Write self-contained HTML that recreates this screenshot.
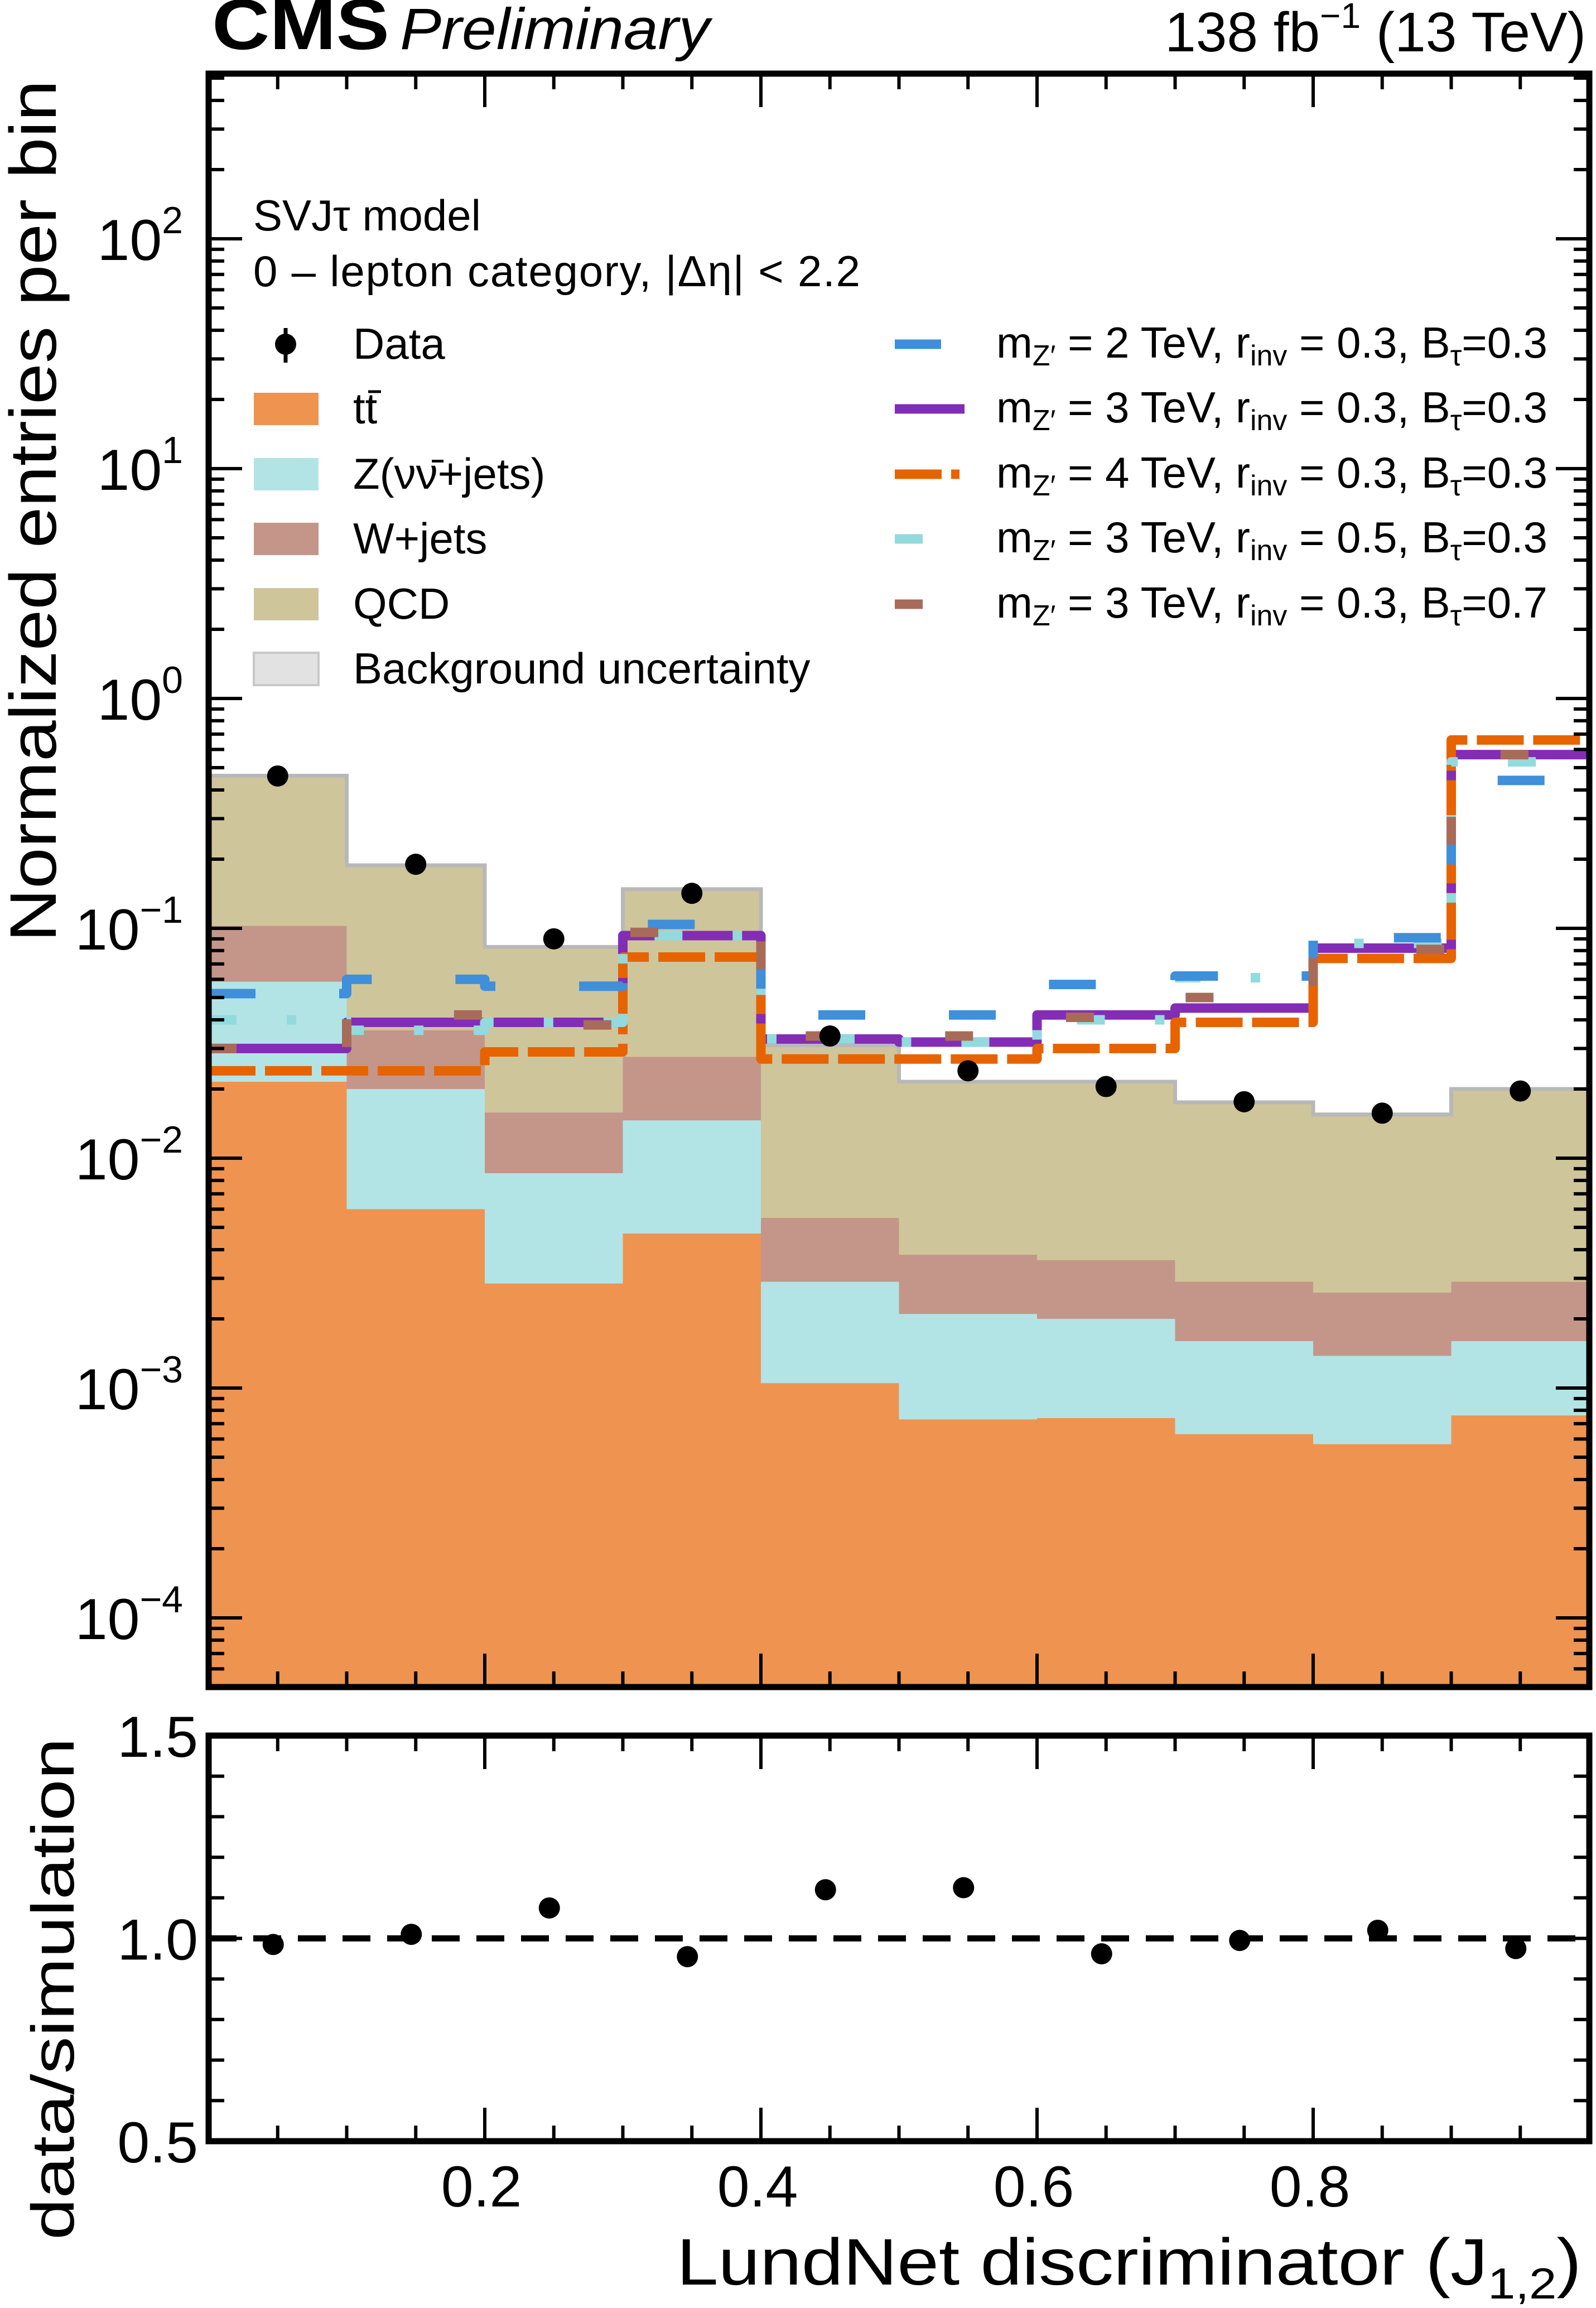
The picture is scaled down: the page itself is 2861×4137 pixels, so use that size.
<!DOCTYPE html>
<html><head><meta charset="utf-8"><style>
html,body{margin:0;padding:0;background:#fff}
svg{display:block}
text{font-family:"Liberation Sans",Arial,sans-serif;fill:#000}
</style></head><body>
<svg id="chart" xmlns="http://www.w3.org/2000/svg" width="2861" height="4137" viewBox="0 0 2861 4137">
<g id="layer-fill"></g>
<g id="layer-lines"></g>
<g id="layer-pts"></g>
<g id="layer-axes"></g>
<g id="layer-text">
<text x="380" y="88" font-size="128" font-weight="bold" textLength="318" lengthAdjust="spacingAndGlyphs">CMS</text>
<text x="717" y="88" font-size="105" font-style="italic" textLength="555" lengthAdjust="spacingAndGlyphs">Preliminary</text>
<text x="2843" y="92" font-size="100" text-anchor="end">138 fb<tspan font-size="64" dy="-42">−1</tspan><tspan dy="42"> (13 TeV)</tspan></text>
<text transform="translate(100,916) rotate(-90)" font-size="118" text-anchor="middle" textLength="1545" lengthAdjust="spacingAndGlyphs">Normalized entries per bin</text>
<text transform="translate(132,3565) rotate(-90)" font-size="108" text-anchor="middle" textLength="900" lengthAdjust="spacingAndGlyphs">data/simulation</text>
<text x="1213" y="4095" font-size="118" textLength="1622" lengthAdjust="spacingAndGlyphs">LundNet discriminator (J<tspan font-size="78" dy="25">1,2</tspan><tspan dy="-25">)</tspan></text>
<text x="454" y="413" font-size="78">SVJτ model</text>
<text x="454" y="513" font-size="78" textLength="1088" lengthAdjust="spacing">0 – lepton category,  |Δη| &lt; 2.2</text>
</g>
<g id="legend"></g>
</svg>
<script>
const binEdges=[0,0.1,0.2,0.3,0.4,0.5,0.6,0.7,0.8,0.9,1.0];
const ttbar=[0.0215,0.006,0.00285,0.0047,0.00105,0.00073,0.00074,0.00063,0.00057,0.00076];
const zjets=[0.0586,0.02,0.0086,0.0146,0.0029,0.0021,0.002,0.0016,0.00138,0.0016];
const wjets=[0.1025,0.036,0.0158,0.0276,0.0055,0.0038,0.0036,0.0029,0.0026,0.0029];
const qcdTotal=[0.461,0.188,0.083,0.148,0.031,0.0215,0.0215,0.0175,0.0155,0.020];
const dataVals=[0.46,0.19,0.09,0.142,0.034,0.024,0.0205,0.0176,0.0157,0.0196];
const ratioVals=[0.985,1.01,1.075,0.955,1.12,1.125,0.962,0.995,1.02,0.975];
const sigBlue=[0.052,0.06,0.056,0.104,0.042,0.042,0.057,0.062,0.091,0.44];
const sigPurple=[0.030,0.039,0.039,0.093,0.033,0.032,0.042,0.045,0.082,0.57];
const sigOrange=[0.024,0.024,0.029,0.075,0.027,0.027,0.030,0.039,0.074,0.66];
const sigCyan=[0.040,0.036,0.039,0.093,0.033,0.032,0.040,0.061,0.086,0.53];
const sigBrown=[0.030,0.042,0.038,0.096,0.034,0.034,0.041,0.050,0.081,0.57];
const yTickExps=[-4,-3,-2,-1,0,1,2];
const xTickLabels=["0.2","0.4","0.6","0.8"];
const ratioTickLabels=["0.5","1.0","1.5"];

const NS="http://www.w3.org/2000/svg";
const L=374,R=2849,T=132,B=3024,RT=3111,RB=3838;
function X(v){return L+v*(R-L);}
function Y(v){return 1252-412*Math.log10(v);}
function RY(v){return RB-(v-0.5)*(RB-RT);}
function mk(tag,attrs,parent){const e=document.createElementNS(NS,tag);for(const k in attrs)e.setAttribute(k,attrs[k]);parent.appendChild(e);return e;}
const gF=document.getElementById('layer-fill'),gL=document.getElementById('layer-lines'),gP=document.getElementById('layer-pts'),gA=document.getElementById('layer-axes'),gLeg=document.getElementById('legend');

function stackPath(top){let d=`M${X(0)},${B}`;for(let i=0;i<top.length;i++){d+=` L${X(binEdges[i])},${Y(top[i])} L${X(binEdges[i+1])},${Y(top[i])}`;}d+=` L${X(1)},${B} Z`;return d;}
function stepPath(vals){let d='';for(let i=0;i<vals.length;i++){d+=(i?' L':'M')+`${X(binEdges[i])},${Y(vals[i])} L${X(binEdges[i+1])},${Y(vals[i])}`;}return d;}

const stacks=[["qcd-stack",qcdTotal,"#cfc59b"],["wjets-stack",wjets,"#c49689"],["zjets-stack",zjets,"#b2e4e6"],["ttbar-stack",ttbar,"#ef9350"]];
stacks.forEach(s=>{const p=mk('path',{d:stackPath(s[1]),fill:s[2]},gF);

});
const unc=mk('path',{d:stepPath(qcdTotal),fill:'none',stroke:'#b8b8b8','stroke-width':7},gF);



const sigs=[["signal-2tev",sigBlue,"#3f8fda","84 150"],["signal-3tev-r03-b03",sigPurple,"#832db6","none"],["signal-4tev",sigOrange,"#e76300","84 17"],["signal-3tev-r05",sigCyan,"#92dadd","50 90 17 90"],["signal-3tev-b07",sigBrown,"#a96b59","50 200"]];
const sigOrder=[1,2,3,0,4];
sigOrder.forEach(k=>{const s=sigs[k];const a={d:stepPath(s[1]),fill:'none',stroke:s[2],'stroke-width':17,'stroke-linejoin':'round'};if(s[3]!=="none")a['stroke-dasharray']=s[3];const p=mk('path',a,gL);

});

dataVals.forEach((v,i)=>{const c=mk('circle',{cx:X((binEdges[i]+binEdges[i+1])/2),cy:Y(v),r:19,fill:'#000'},gP);

});
const dl=mk('line',{x1:L,x2:R,y1:RY(1),y2:RY(1),stroke:'#000','stroke-width':11,'stroke-dasharray':'50 30'},gP);


ratioVals.forEach((v,i)=>{const c=mk('circle',{cx:X((binEdges[i]+binEdges[i+1])/2)-8,cy:RY(v),r:19,fill:'#000'},gP);

});

[[T,B,"main-frame"],[RT,RB,"ratio-frame"]].forEach(f=>{const r=mk('rect',{x:L,y:f[0],width:R-L,height:f[1]-f[0],fill:'none',stroke:'#000','stroke-width':11},gA);

});
function tick(x1,y1,x2,y2){mk('line',{x1,y1,x2,y2,stroke:'#000','stroke-width':6},gA);}
for(let k=1;k<20;k++){const x=X(k*0.05);const maj=k%4===0;const len=maj?60:28;
[[T,B],[RT,RB]].forEach(p=>{tick(x,p[0],x,p[0]+len);tick(x,p[1],x,p[1]-len);});}
xTickLabels.forEach(t=>{const e=mk('text',{x:X(parseFloat(t))-6,y:3955,'font-size':104,'text-anchor':'middle'},gA);e.textContent=t;

});
for(let e=-5;e<=2;e++){for(let m=1;m<10;m++){const y=Y(m*Math.pow(10,e));if(y<T+3||y>B-3)continue;const len=m===1?60:28;tick(L,y,L+len,y);tick(R,y,R-len,y);}}
yTickExps.forEach(e=>{const t=mk('text',{x:328,y:Y(Math.pow(10,e))+38,'font-size':104,'text-anchor':'end'},gA);t.textContent='10';
const s=mk('tspan',{'font-size':68,dy:-48},t);s.textContent=e<0?'−'+(-e):String(e);

});
for(let k=1;k<10;k++){const y=RY(0.5+k*0.1);const len=k===5?60:28;tick(L,y,L+len,y);tick(R,y,R-len,y);}
ratioTickLabels.forEach(t=>{const e=mk('text',{x:355,y:RY(parseFloat(t))+38,'font-size':104,'text-anchor':'end'},gA);e.textContent=t;

});

function ltext(x,y,html,name){const t=mk('text',{x,y,'font-size':78},gLeg);t.innerHTML=html;

return t;}
const dm=mk('circle',{cx:512,cy:617,r:19,fill:'#000'},gLeg);


mk('line',{x1:512,x2:512,y1:588,y2:650,stroke:'#000','stroke-width':7},gLeg);
ltext(633,643,'Data','legend-data');
const leftBoxes=[["#ef9350",'t<tspan>t</tspan>',"legend-ttbar"],["#b2e4e6","Z(νν̄+jets)","legend-zjets"],["#c49689","W+jets","legend-wjets"],["#cfc59b","QCD","legend-qcd"],["#e2e2e2","Background uncertainty","legend-bkg-unc"]];
const leftRows=[733,850,966,1083,1199];
leftBoxes.forEach((b,i)=>{const r=mk('rect',{x:455,y:leftRows[i]-29,width:116,height:58,fill:b[0],stroke:i===4?'#c8c8c8':'none','stroke-width':4},gLeg);


ltext(633,leftRows[i]+26,b[1],b[2]);});
mk('line',{x1:660,x2:683,y1:702,y2:702,stroke:'#000','stroke-width':5},gLeg);
const rightTexts=[["2","0.3","0.3"],["3","0.3","0.3"],["4","0.3","0.3"],["3","0.5","0.3"],["3","0.3","0.7"]];
const rightRows=[617,733,850,966,1083];
rightTexts.forEach((r,i)=>{const s=sigs[i];const a={x1:1604,x2:i===1?1729:(i===2?1720:1687),y1:rightRows[i],y2:rightRows[i],stroke:s[2],'stroke-width':17};if(i===2)a['stroke-dasharray']='84 17 17 100';if(i===3||i===4){a.x2=1654;}
const ln=mk('line',a,gLeg);


const t=ltext(1786,rightRows[i]+24,`m<tspan font-size="52" dy="14">Z′</tspan><tspan dy="-14"> = ${r[0]} TeV, r</tspan><tspan font-size="52" dy="14">inv</tspan><tspan dy="-14"> = ${r[1]}, B</tspan><tspan font-size="52" dy="14">τ</tspan><tspan dy="-14">=${r[2]}</tspan>`,s[0]+'-legend');
t.setAttribute('textLength','988');
t.setAttribute('lengthAdjust','spacingAndGlyphs');});
</script>
</body></html>
